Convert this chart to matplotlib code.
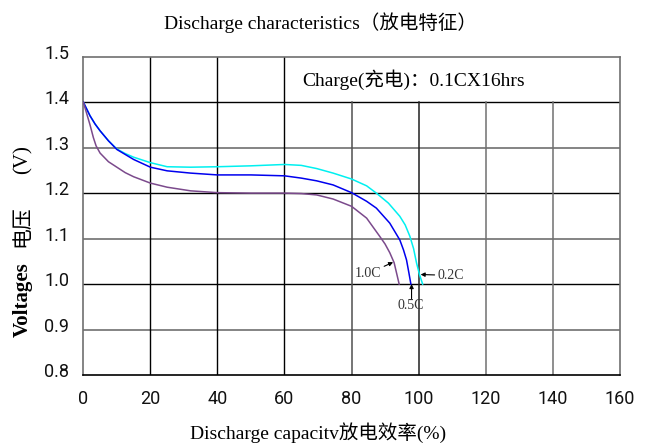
import matplotlib
matplotlib.use("Agg")
import matplotlib.pyplot as plt
import matplotlib.transforms as mtransforms

# ---------------- data ----------------
x_02c = [0, 1, 2, 3.5, 5, 7.5, 10, 12.5, 15, 20, 25, 32, 40, 50, 60, 65, 69.6, 74.5, 80, 84.5,
         87.4, 91, 94.4, 96, 97.4, 98.5, 99.4, 100.3, 101.2]
v_02c = [1.40, 1.385, 1.370, 1.352, 1.337, 1.315, 1.297, 1.287, 1.279, 1.267, 1.258, 1.257, 1.258,
         1.260, 1.263, 1.261, 1.254, 1.244, 1.231, 1.216, 1.200, 1.178, 1.149, 1.130, 1.105, 1.078,
         1.046, 1.020, 1.00]

x_05c = [0, 1, 2, 3.5, 5, 7.5, 10, 12.5, 15, 20, 25, 32, 40, 50, 60, 65, 69.6, 74.5, 80, 84.5,
         87.4, 91.4, 94.4, 95.5, 96.4, 97.1, 97.7]
v_05c = [1.40, 1.385, 1.370, 1.352, 1.337, 1.315, 1.296, 1.285, 1.274, 1.257, 1.249, 1.244, 1.240,
         1.240, 1.238, 1.233, 1.227, 1.218, 1.201, 1.182, 1.167, 1.134, 1.097, 1.075, 1.053, 1.025,
         1.00]

x_10c = [0, 1, 2, 3, 3.8, 5, 7.5, 10, 12.5, 15, 20, 25, 32, 40, 50, 60, 65, 69.6, 74.5, 80, 84.5,
         88.4, 90, 91.4, 92.7, 93.5, 94.2]
v_10c = [1.40, 1.375, 1.350, 1.322, 1.304, 1.288, 1.269, 1.257, 1.245, 1.236, 1.222, 1.213, 1.205,
         1.201, 1.200, 1.200, 1.199, 1.196, 1.187, 1.171, 1.145, 1.105, 1.088, 1.069, 1.047, 1.022,
         1.00]

x_ticks = [0, 20, 40, 60, 80, 100, 120, 140, 160]
y_ticks = [0.8, 0.9, 1.0, 1.1, 1.2, 1.3, 1.4, 1.5]
y_tick_labels = ["0.8", "0.9", "1.0", "1.1", "1.2", "1.3", "1.4", "1.5"]

title = "Discharge characteristics（放电特征）"
xlabel = "Discharge capacitv放电效率(%)"
ylabel_parts = ["Voltages", "电压", "(V)"]
charge_note = "Charge(充电)：0.1CX16hrs"

# ---------------- figure ----------------
W, H = 651, 445
fig = plt.figure(figsize=(W / 100, H / 100), dpi=100)
ax = fig.add_axes([0.128, 0.1573, 0.824, 0.7153])
ax.set_xlim(0, 160)
ax.set_ylim(0.8, 1.5)

serif_cjk = ["Liberation Serif", "Noto Sans CJK SC"]
thin = ["Roboto", "DejaVu Sans"]

# grid lines drawn explicitly (top row right of 60 left open for the note box)
h_black = [1.4, 1.2, 1.0]
h_gray = [1.3, 1.1, 0.9]
for yv in h_black:
    ax.axhline(yv, color="black", lw=1.0, zorder=1)
for yv in h_gray:
    ax.axhline(yv, color="#707070", lw=1.2, zorder=1)
v_full_black = [20, 40, 60]
v_part = {80: "#505050", 100: "#202020", 120: "#707070", 140: "#707070"}
for xv in v_full_black:
    ax.axvline(xv, color="black", lw=1.0, zorder=1)
for xv, c in v_part.items():
    ax.plot([xv, xv], [0.8, 1.4], color=c, lw=1.1, zorder=1)

for side, c in [("left", "#707070"), ("right", "#707070"), ("top", "#707070"), ("bottom", "black")]:
    ax.spines[side].set_color(c)
    ax.spines[side].set_linewidth(1.2)

# curves
ax.plot(x_02c, v_02c, color="#00f0f0", lw=1.1, zorder=3)
ax.plot(x_05c, v_05c, color="#0000ee", lw=1.1, zorder=3)
ax.plot(x_10c, v_10c, color="#7b4a8c", lw=1.1, zorder=3)

# annotations
arrow = dict(arrowstyle="-|>", color="black", lw=0.8, mutation_scale=6, shrinkA=0, shrinkB=0)
ax.annotate("1.0C", xy=(92.4, 1.048), xytext=(88.9, 1.023), ha="right", va="center",
            fontsize=10, family=serif_cjk, color="#333333", arrowprops=arrow, zorder=4)
ax.annotate("0.2C", xy=(100.6, 1.021), xytext=(105.6, 1.019), ha="left", va="center",
            fontsize=10, family=serif_cjk, color="#333333", arrowprops=arrow, zorder=4)
ax.annotate("0.5C", xy=(97.9, 1.0), xytext=(97.5, 0.952), ha="center", va="center",
            fontsize=10, family=serif_cjk, color="#333333", zorder=4)
ax.annotate("", xy=(97.9, 1.0), xytext=(97.9, 0.968), arrowprops=arrow, zorder=4)

# note
ax.text(65.2, 1.45, charge_note, ha="left", va="center", fontsize=14, family=serif_cjk)

# ticks
ax.set_xticks(x_ticks)
ax.set_xticklabels([str(v) for v in x_ticks], family=thin, fontsize=13, color="#111111",
                   fontweight="normal")
ax.set_yticks(y_ticks)
ax.set_yticklabels(y_tick_labels, family=thin, fontsize=13, color="#111111",
                   fontweight="normal")
ax.tick_params(axis="both", length=0)
ax.tick_params(axis="x", pad=11)
ax.tick_params(axis="y", pad=10)
off = mtransforms.ScaledTranslation(0, 5 / 100, fig.dpi_scale_trans)
for lab in ax.get_yticklabels():
    lab.set_transform(lab.get_transform() + off)

# titles
fig.text(0.4915, 0.950, title, ha="center", va="center", fontsize=14, family=serif_cjk)
fig.text(0.488, 0.027, xlabel, ha="center", va="center", fontsize=14, family=serif_cjk)

ylab_x = 23 / W
ylab_y = [300, 226, 160]  # pixel rows from top
ylab_w = ["semibold", "normal", "normal"]
for txt, yp, wgt in zip(ylabel_parts, ylab_y, ylab_w):
    fig.text(ylab_x, 1 - yp / H, txt, ha="center", va="center", rotation=90, fontsize=15,
             family=serif_cjk, fontweight=wgt)

fig.savefig("out.png", dpi=100)
